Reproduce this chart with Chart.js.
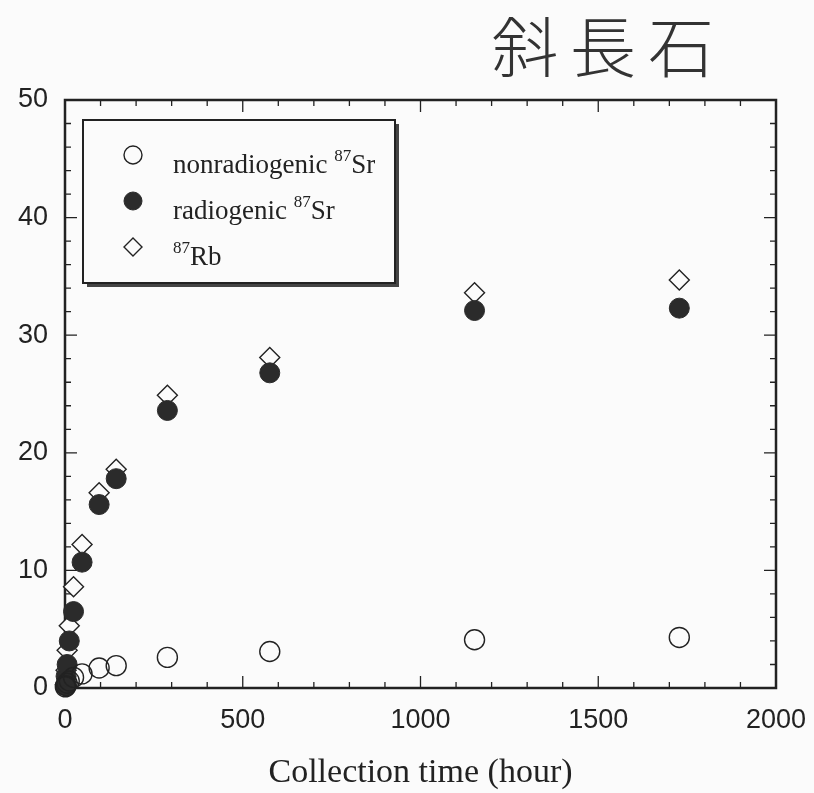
<!DOCTYPE html>
<html>
<head>
<meta charset="utf-8">
<script src="https://cdn.jsdelivr.net/npm/chart.js@4/dist/chart.umd.min.js"></script>
<style>
  html, body { margin: 0; padding: 0; background: #fbfbfb; }
  #wrap { width: 814px; height: 793px; position: relative; }
</style>
</head>
<body>
<div id="wrap"><canvas id="c"></canvas></div>
<script>
// ---- data ----
const times      = [1, 3, 6, 12, 24, 48, 96, 144, 288, 576, 1152, 1728];           // Collection time (hour)
const nonRadSr   = [0.1, 0.2, 0.4, 0.6, 0.9, 1.2, 1.7, 1.9, 2.6, 3.1, 4.1, 4.3];
const radSr      = [0.2, 1.0, 2.0, 4.0, 6.5, 10.7, 15.6, 17.8, 23.6, 26.8, 32.1, 32.3];
const rb87       = [0.3, 1.5, 3.2, 5.3, 8.6, 12.2, 16.6, 18.6, 24.9, 28.1, 33.6, 34.7];
const xTicks     = [0, 500, 1000, 1500, 2000];
const yTicks     = [0, 10, 20, 30, 40, 50];
const titleText  = '斜長石';
const xTitle     = 'Collection time (hour)';
const legendRows = [
  { pre: 'nonradiogenic ', sup: '87', post: 'Sr', ds: 0 },
  { pre: 'radiogenic ',    sup: '87', post: 'Sr', ds: 1 },
  { pre: '',               sup: '87', post: 'Rb', ds: 2 },
];

const toPts = (ys) => times.map((t, i) => ({ x: t, y: ys[i] }));
const INK = '#222';
const SANS = '"Liberation Sans Narrow", "Liberation Sans", Arial, sans-serif';
const SERIF = '"Liberation Serif", "Times New Roman", serif';

const framePlugin = {
  id: 'frame',
  beforeDatasetsDraw(chart) {
    const { ctx, chartArea: a, scales: { x, y } } = chart;
    ctx.save();
    ctx.strokeStyle = INK;
    ctx.lineWidth = 1.3;
    // inward ticks on all four sides
    for (let v = 0; v <= 2000; v += 100) {
      const px = x.getPixelForValue(v);
      const len = v % 500 === 0 ? 12 : 6;
      ctx.beginPath();
      ctx.moveTo(px, a.bottom); ctx.lineTo(px, a.bottom - len);
      ctx.moveTo(px, a.top); ctx.lineTo(px, a.top + len);
      ctx.stroke();
    }
    for (let v = 0; v <= 50; v += 2) {
      const py = y.getPixelForValue(v);
      const len = v % 10 === 0 ? 12 : 6;
      ctx.beginPath();
      ctx.moveTo(a.left, py); ctx.lineTo(a.left + len, py);
      ctx.moveTo(a.right, py); ctx.lineTo(a.right - len, py);
      ctx.stroke();
    }
    ctx.lineWidth = 2.5;
    ctx.strokeRect(a.left, a.top, a.right - a.left, a.bottom - a.top);
    ctx.restore();
  },
  afterDraw(chart) {
    const { ctx, chartArea: a } = chart;
    ctx.save();
    // handwritten-like title
    ctx.fillStyle = '#333';
    ctx.font = '300 66px "Noto Sans CJK JP", sans-serif';
    ctx.textAlign = 'center';
    ctx.textBaseline = 'middle';
    ctx.letterSpacing = '12px';
    ctx.fillText(titleText, 609, 47);
    ctx.letterSpacing = '0px';

    // legend box with drop shadow
    const bx = a.left + 18, by = a.top + 20, bw = 312, bh = 163;
    ctx.fillStyle = '#444';
    ctx.fillRect(bx + 4, by + 4, bw, bh);
    ctx.fillStyle = '#fbfbfb';
    ctx.fillRect(bx, by, bw, bh);
    ctx.strokeStyle = INK;
    ctx.lineWidth = 2;
    ctx.strokeRect(bx, by, bw, bh);

    legendRows.forEach((row, i) => {
      const ds = chart.data.datasets[row.ds];
      const my = by + 35 + i * 46;
      const mx = bx + 50;
      ctx.fillStyle = ds.pointBackgroundColor;
      ctx.strokeStyle = ds.pointBorderColor;
      ctx.lineWidth = ds.pointBorderWidth;
      Chart.helpers.drawPoint(ctx, {
        pointStyle: ds.pointStyle, radius: 9, rotation: 0, borderWidth: ds.pointBorderWidth
      }, mx, my);
      // text with superscript
      ctx.fillStyle = INK;
      ctx.textAlign = 'left';
      ctx.textBaseline = 'alphabetic';
      let tx = bx + 90;
      const base = my + 18;
      ctx.font = '27px ' + SERIF;
      ctx.fillText(row.pre, tx, base);
      tx += ctx.measureText(row.pre).width;
      ctx.font = '17px ' + SERIF;
      ctx.fillText(row.sup, tx, base - 12);
      tx += ctx.measureText(row.sup).width;
      ctx.font = '27px ' + SERIF;
      ctx.fillText(row.post, tx, base);
    });
    ctx.restore();
  }
};

new Chart(document.getElementById('c'), {
  type: 'scatter',
  data: {
    datasets: [
      { label: 'nonradiogenic 87Sr', data: toPts(nonRadSr), pointStyle: 'circle',
        pointRadius: 10, pointBackgroundColor: 'rgba(0,0,0,0)', pointBorderColor: INK,
        pointBorderWidth: 1.4, order: 0, clip: false },
      { label: 'radiogenic 87Sr', data: toPts(radSr), pointStyle: 'circle',
        pointRadius: 10, pointBackgroundColor: '#2b2b2b', pointBorderColor: '#2b2b2b',
        pointBorderWidth: 1, order: 1, clip: false },
      { label: '87Rb', data: toPts(rb87), pointStyle: 'rectRot',
        pointRadius: 10, pointBackgroundColor: '#fbfbfb', pointBorderColor: INK,
        pointBorderWidth: 1.4, order: 2, clip: false },
    ]
  },
  options: {
    responsive: true,
    maintainAspectRatio: false,
    animation: false,
    layout: { padding: { top: 100, right: 38, left: 0, bottom: 0 } },
    plugins: { legend: { display: false }, tooltip: { enabled: false }, title: { display: false } },
    scales: {
      x: {
        type: 'linear', min: 0, max: 2000,
        afterBuildTicks: (s) => { s.ticks = xTicks.map(v => ({ value: v })); },
        afterFit: (s) => { s.height = 105; s.paddingLeft = 0; s.paddingRight = 0; },
        grid: { display: false, drawTicks: false },
        border: { display: false },
        ticks: { color: INK, padding: 16, font: { family: SANS, size: 27 }, callback: (v) => String(v) },
        title: { display: true, text: xTitle, color: INK, padding: { top: 0, bottom: 3 },
                 font: { family: SERIF, size: 34, lineHeight: 1 } }
      },
      y: {
        type: 'linear', min: 0, max: 50,
        afterBuildTicks: (s) => { s.ticks = yTicks.map(v => ({ value: v })); },
        afterFit: (s) => { s.width = 65; s.paddingTop = 0; s.paddingBottom = 0; },
        grid: { display: false, drawTicks: false },
        border: { display: false },
        ticks: { color: INK, padding: 17, font: { family: SANS, size: 27 }, callback: (v) => String(v) }
      }
    }
  },
  plugins: [framePlugin]
});
</script>
</body>
</html>
